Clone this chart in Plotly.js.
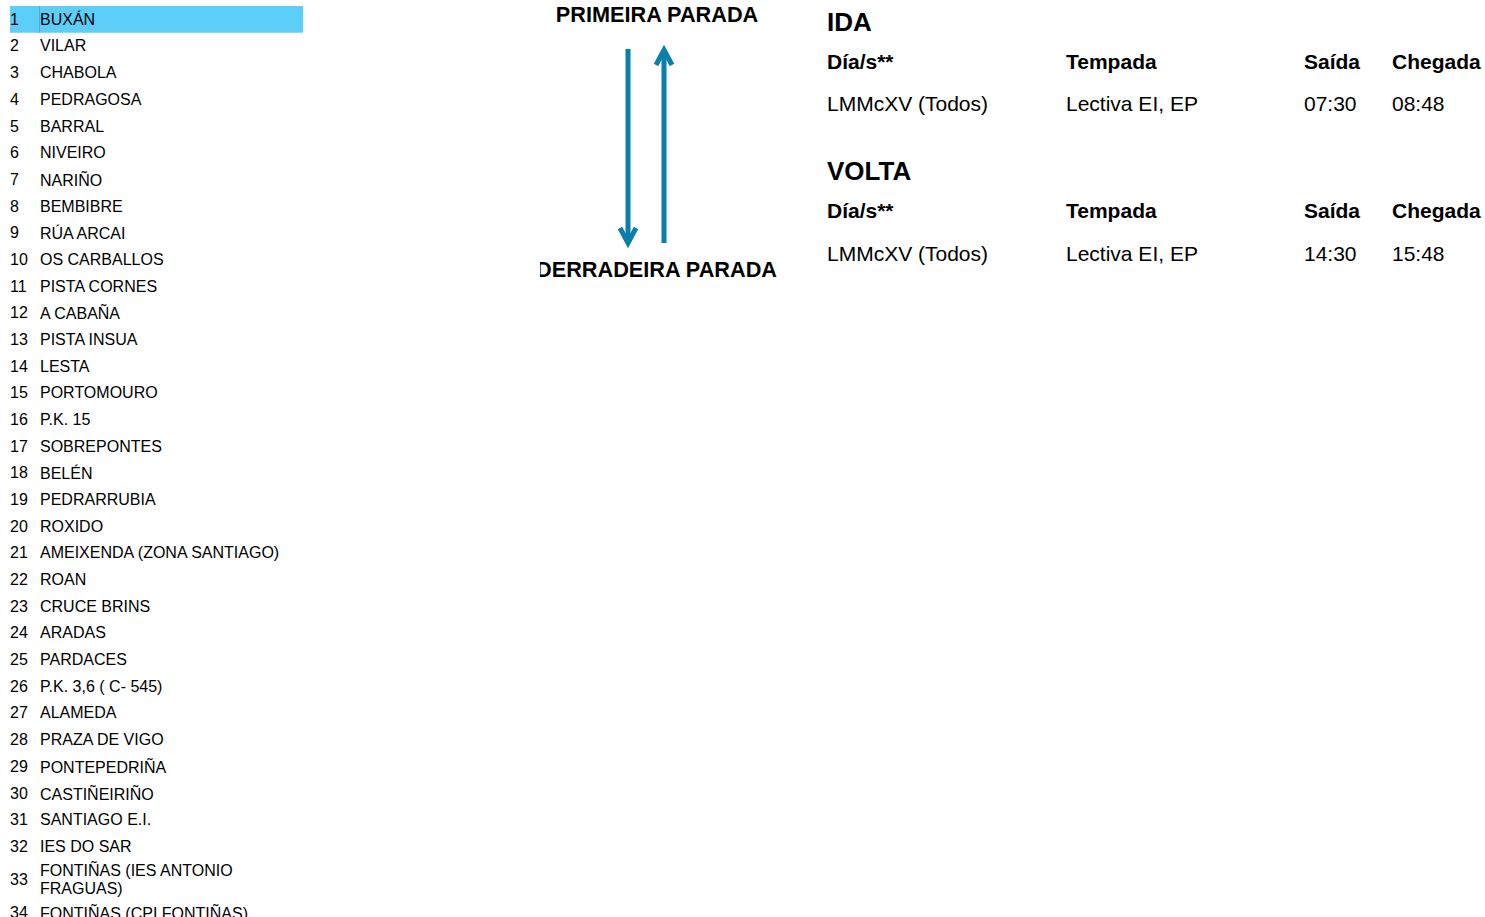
<!DOCTYPE html>
<html>
<head>
<meta charset="utf-8">
<script src="https://cdn.plot.ly/plotly-3.0.1.min.js"></script>
<style>
html,body{margin:0;padding:0;background:#ffffff;}
#chart{width:1485px;height:917px;}
</style>
</head>
<body>
<div id="chart"></div>
<script>
// ---------------- DATA ----------------
const stops = [
  "BUXÁN", "VILAR", "CHABOLA", "PEDRAGOSA", "BARRAL", "NIVEIRO", "NARIÑO",
  "BEMBIBRE", "RÚA ARCAI", "OS CARBALLOS", "PISTA CORNES", "A CABAÑA",
  "PISTA INSUA", "LESTA", "PORTOMOURO", "P.K. 15", "SOBREPONTES", "BELÉN",
  "PEDRARRUBIA", "ROXIDO", "AMEIXENDA (ZONA SANTIAGO)", "ROAN", "CRUCE BRINS",
  "ARADAS", "PARDACES", "P.K. 3,6 ( C- 545)", "ALAMEDA", "PRAZA DE VIGO",
  "PONTEPEDRIÑA", "CASTIÑEIRIÑO", "SANTIAGO E.I.", "IES DO SAR",
  "FONTIÑAS (IES ANTONIO<br>FRAGUAS)", "FONTIÑAS (CPI FONTIÑAS)"
];
const highlightedStop = 1;
const directionLabels = ["PRIMEIRA PARADA", "DERRADEIRA PARADA"];
const sectionTitles = ["IDA", "VOLTA"];
const tableHeaders = ["Día/s**", "Tempada", "Saída", "Chegada"];
const idaRow = ["LMMcXV (Todos)", "Lectiva EI, EP", "07:30", "08:48"];
const voltaRow = ["LMMcXV (Todos)", "Lectiva EI, EP", "14:30", "15:48"];

// ---------------- LAYOUT CONSTANTS ----------------
const W = 1485, H = 917;
const FONT = '"Liberation Sans", Arial, Helvetica, sans-serif';
const TXT = '#000000';
const ARROW = '#0b7fa9';
const HILITE = '#5bcefa';
const LIST = {numX: 8.6, nameX: 38.6, y0: 19.3, rowH: 26.68, lineH: 19, size: 16};
const TABLE = {cols: [826, 1065, 1303, 1391], size: 21, titleSize: 26,
  sections: [{title: 22, head: 61.5, row: 103.5}, {title: 171, head: 210.5, row: 253.5}]};

const annotations = [];
const shapes = [];
function ann(x, y, text, size, bold, anchor) {
  annotations.push({
    xref: 'x', yref: 'y', x: x, y: y, text: bold ? '<b>' + text + '</b>' : text,
    showarrow: false, xanchor: anchor || 'left', yanchor: 'middle',
    borderpad: 0, font: {family: FONT, size: size, color: TXT}
  });
}

// ---- stop list ----
let prevCenter = null, prevH = 0;
stops.forEach((name, i) => {
  const lines = name.split('<br>');
  const h = LIST.rowH + (lines.length - 1) * (LIST.lineH - 6.3);
  const c = prevCenter === null ? LIST.y0 : prevCenter + prevH / 2 + h / 2;
  prevCenter = c; prevH = h;
  if (i + 1 === highlightedStop) {
    shapes.push({type: 'rect', xref: 'x', yref: 'y', x0: 10, x1: 303, y0: c - 13.3, y1: c + 13.5,
      fillcolor: HILITE, line: {width: 0}, layer: 'below'});
    shapes.push({type: 'line', xref: 'x', yref: 'y', x0: 39.5, x1: 39.5, y0: c - 13.3, y1: c + 13.5,
      line: {color: '#3fb2e8', width: 1}, layer: 'below'});
  }
  ann(LIST.numX, c, String(i + 1), LIST.size, false);
  lines.forEach((ln, k) => {
    const ly = c + (k - (lines.length - 1) / 2) * LIST.lineH;
    ann(LIST.nameX, ly, ln, LIST.size, false);
  });
});

// ---- tables ----
const rows = [idaRow, voltaRow];
TABLE.sections.forEach((s, si) => {
  ann(TABLE.cols[0], s.title, sectionTitles[si], TABLE.titleSize, true);
  tableHeaders.forEach((h, ci) => ann(TABLE.cols[ci], s.head, h, TABLE.size, true));
  rows[si].forEach((v, ci) => ann(TABLE.cols[ci], s.row, v, TABLE.size, false));
});

// ---- arrows ----
const downX = 628, upX = 664, wing = 8, wingLen = 15;
shapes.push({type: 'line', xref: 'x', yref: 'y', x0: downX, x1: downX, y0: 49, y1: 241,
  line: {color: ARROW, width: 5}});
shapes.push({type: 'path', xref: 'x', yref: 'y',
  path: `M${downX - wing},${243 - wingLen} L${downX},${243} L${downX + wing},${243 - wingLen}`,
  line: {color: ARROW, width: 5}});
shapes.push({type: 'line', xref: 'x', yref: 'y', x0: upX, x1: upX, y0: 243, y1: 52,
  line: {color: ARROW, width: 5}});
shapes.push({type: 'path', xref: 'x', yref: 'y',
  path: `M${upX - wing},${50 + wingLen} L${upX},${50} L${upX + wing},${50 + wingLen}`,
  line: {color: ARROW, width: 5}});

// ---- direction labels (clipped panel) ----
const traces = [{
  type: 'scatter', mode: 'text', xaxis: 'x2', yaxis: 'y2',
  x: [657, 656.5], y: [16.5, 271.5], text: directionLabels.map(t => '<b>' + t + '</b>'),
  textposition: 'middle center', cliponaxis: true,
  textfont: {family: FONT, size: 21.7, color: TXT}, hoverinfo: 'skip', showlegend: false
}, {
  type: 'scatter', mode: 'markers', x: [0], y: [0], marker: {size: 0, opacity: 0},
  hoverinfo: 'skip', showlegend: false
}];

const layout = {
  width: W, height: H, margin: {l: 0, r: 0, t: 0, b: 0, pad: 0},
  paper_bgcolor: '#ffffff', plot_bgcolor: 'rgba(0,0,0,0)', showlegend: false,
  xaxis: {range: [0, W], visible: false, domain: [0, 1], fixedrange: true},
  yaxis: {range: [H, 0], visible: false, domain: [0, 1], fixedrange: true},
  xaxis2: {range: [540, 810], visible: false, domain: [540 / W, 810 / W], anchor: 'y2', fixedrange: true},
  yaxis2: {range: [H, 0], visible: false, domain: [0, 1], anchor: 'x2', fixedrange: true},
  annotations: annotations, shapes: shapes
};

Plotly.newPlot('chart', traces, layout, {staticPlot: true, displayModeBar: false});
</script>
</body>
</html>
